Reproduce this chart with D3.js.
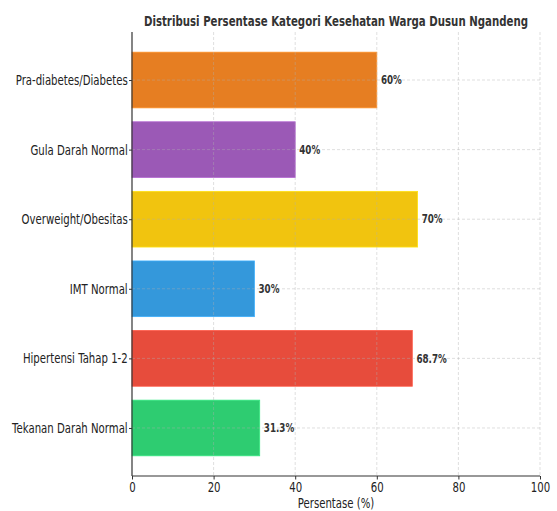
<!DOCTYPE html>
<html><head><meta charset="utf-8">
<script src="https://cdn.jsdelivr.net/npm/d3@7"></script>
<style>
body{margin:0;background:#fff;}
text{font-family:"DejaVu Sans",sans-serif;}
</style></head>
<body><svg id="c" width="557" height="511"></svg>
<script>
const categories = ["Pra-diabetes/Diabetes","Gula Darah Normal","Overweight/Obesitas","IMT Normal","Hipertensi Tahap 1-2","Tekanan Darah Normal"];
const values = [60, 40, 70, 30, 68.7, 31.3];
const valueLabels = ["60%","40%","70%","30%","68.7%","31.3%"];
const colors = ["#e67e22","#9b59b6","#f1c40f","#3498db","#e74c3c","#2ecc71"];
const xTicks = [0,20,40,60,80,100];
const title = "Distribusi Persentase Kategori Kesehatan Warga Dusun Ngandeng";
const xLabel = "Persentase (%)";

const K = 0.73; // horizontal squeeze of the reference's lettering
function squeeze(sel){
  sel.each(function(){
    const t = d3.select(this);
    const tx = +t.attr("x") || 0, ty = +t.attr("y") || 0;
    t.attr("transform", `translate(${tx},${ty}) scale(${K},1)`).attr("x",0).attr("y",0);
  });
}

const svg = d3.select("#c");
const m = {l:132, r:540, t:32, b:476};
const x = d3.scaleLinear().domain([0,100]).range([m.l, m.r]);
const y = d3.scaleLinear().domain([-0.69, 5.69]).range([m.t, m.b]);
const bh = y(0.4) - y(-0.4);

svg.selectAll("rect.bar").data(values).enter().append("rect")
  .attr("class","bar")
  .attr("x", x(0))
  .attr("y", (d,i)=>y(i-0.4))
  .attr("width", d=>x(d)-x(0))
  .attr("height", bh)
  .attr("fill", (d,i)=>colors[i])
  .attr("stroke", (d,i)=>d3.color(colors[i]).brighter(0.4))
  .attr("stroke-width", 0.8);

const g = svg.append("g");
g.selectAll("line.vg").data(xTicks.slice(1)).enter().append("line")
  .attr("x1", d=>x(d)).attr("x2", d=>x(d)).attr("y1", m.t).attr("y2", m.b)
  .attr("stroke","#b0b0b0").attr("stroke-opacity",0.5).attr("stroke-width",0.8).attr("stroke-dasharray","3,2");
g.selectAll("line.hg").data(categories).enter().append("line")
  .attr("x1", m.l).attr("x2", m.r).attr("y1", (d,i)=>y(i)).attr("y2", (d,i)=>y(i))
  .attr("stroke","#b0b0b0").attr("stroke-opacity",0.5).attr("stroke-width",0.8).attr("stroke-dasharray","3,2");

const xAxis = d3.axisBottom(x).tickValues(xTicks).tickSize(3.5).tickPadding(2.5).tickFormat(d3.format("d"));
const xg = svg.append("g").attr("transform",`translate(0,${m.b})`).call(xAxis);
xg.select(".domain").attr("stroke","#333").attr("stroke-width",1.2).attr("d",`M${m.l},0H${m.r}`);
xg.selectAll(".tick line").attr("stroke","#333");
xg.selectAll(".tick text").attr("font-size",13.9).attr("fill","#222").call(squeeze);

const yAxis = d3.axisLeft(y).tickValues(d3.range(categories.length)).tickSize(3).tickPadding(1.3).tickFormat(i=>categories[i]);
const yg = svg.append("g").attr("transform",`translate(${m.l},0)`).call(yAxis);
yg.select(".domain").attr("stroke","#333").attr("stroke-width",1.2).attr("d",`M0,${m.t}V${m.b}`);
yg.selectAll(".tick line").attr("stroke","#333");
yg.selectAll(".tick text").attr("font-size",13.9).attr("fill","#222").call(squeeze);

svg.selectAll("text.val").data(values).enter().append("text")
  .attr("class","val")
  .attr("x", d=>x(d+1))
  .attr("y", (d,i)=>y(i))
  .attr("dy","0.35em")
  .attr("font-size",12).attr("font-weight","bold").attr("fill","#333")
  .text((d,i)=>valueLabels[i]).call(squeeze);

svg.append("text").attr("x", (m.l+m.r)/2).attr("y", 26).attr("text-anchor","middle")
  .attr("font-size",14).attr("font-weight","bold").attr("fill","#333").text(title).call(squeeze);
svg.append("text").attr("x", (m.l+m.r)/2).attr("y", 507.5).attr("text-anchor","middle")
  .attr("font-size",13.9).attr("fill","#222").text(xLabel).call(squeeze);
</script></body></html>
